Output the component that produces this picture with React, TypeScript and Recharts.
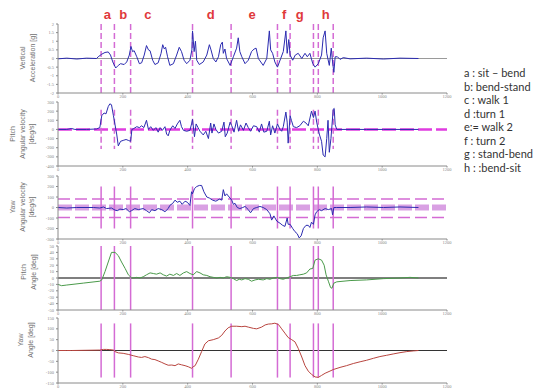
import React from 'react';
import { LineChart, Line, XAxis, YAxis, ReferenceLine } from 'recharts';

// ---------- data ----------
const X_TICKS = [0, 200, 400, 600, 800, 1000, 1200];
const EVENT_TIMES = [133, 174, 224, 415, 534, 677, 716, 788, 803, 849];
const PHASE_LETTERS = ['a', 'b', 'c', 'd', 'e', 'f', 'g', 'h'];
const PHASE_LETTER_TIMES = [152, 201, 277, 471, 599, 698, 746, 826];
const LEGEND_LINES = [
  'a : sit \u2013 bend',
  'b: bend-stand',
  'c : walk 1',
  'd :turn 1',
  'e:= walk 2',
  'f : turn 2',
  'g : stand-bend',
  'h : :bend-sit',
];

const verticalAccel: [number, number][] = [
  [0, -0.02], [27, 0.02], [58, -0.03], [88, 0.02], [119, 0], [124, 0.1], [135, 0.25], [145, 0.35],
  [155, 0.38], [162, 0.2], [169, -0.2], [178, -0.55], [186, -0.4], [193, -0.3], [204, -0.35],
  [212, -0.2], [220, 0.2], [225, 0.7], [230, 0.4], [235, 0.45], [243, 0.1], [251, -0.3], [258, -0.25],
  [266, 0.2], [273, 0.75], [279, 0.5], [284, 0.45], [292, -0.1], [299, -0.35], [309, -0.25], [318, 0.3],
  [323, 0.8], [328, 0.55], [332, 0.65], [338, 0.1], [345, -0.4], [356, -0.3], [366, 0.2], [374, 0.65],
  [381, 0.4], [389, -0.1], [397, -0.3], [407, -0.1], [413, 0.5], [415, 1.6], [420, 0.4], [424, 1.0],
  [428, -0.1], [436, -0.35], [448, -0.2], [459, 0.2], [467, 0.8], [472, 0.5], [479, 0], [487, -0.2],
  [495, 0.1], [502, 0.8], [507, 0.95], [510, 0.3], [515, 0.55], [520, 0], [531, -0.4], [541, 0.1],
  [551, 0.6], [556, 1.2], [561, 0.4], [567, 0.1], [577, -0.3], [587, -0.1], [597, 0.4], [605, 0.55],
  [611, 0.6], [618, 0], [633, -0.4], [644, 0], [652, 1.6], [656, 0.5], [662, 0.3], [669, -0.2],
  [677, -0.5], [687, 0], [695, 0.4], [703, 1.6], [707, 0.3], [712, 1.1], [716, 0.2], [724, -0.1],
  [732, 0.2], [741, 0.3], [752, 0], [762, 0.3], [769, 0.1], [777, 0.3], [786, -0.3], [793, -0.5],
  [803, -0.3], [813, 0.2], [818, 1.2], [824, 1.6], [829, 0.3], [837, -0.4], [843, 0.6], [847, -0.2],
  [851, -0.8], [855, 0.1], [862, 0.1], [870, -0.05], [880, 0.05], [901, -0.02], [952, 0.02],
  [1004, -0.03], [1055, 0.02], [1112, 0],
];

const pitchVelocity: [number, number][] = [
  [0, 0], [27, 0], [42, 10], [52, 0], [88, 0], [119, 5], [129, 20], [135, 150], [142, 180], [148, 170],
  [155, 250], [160, 280], [165, 270], [171, 150], [176, 50], [181, -50], [186, -180], [193, -130],
  [201, -120], [210, -110], [217, -120], [224, -130], [228, 0], [234, 10], [243, 30], [251, 20],
  [258, 40], [265, 20], [273, 100], [279, 0], [286, 30], [294, -10], [302, 20], [309, -30], [315, 20],
  [322, -10], [330, 30], [335, -50], [340, -70], [345, -10], [354, 40], [361, 10], [368, 60],
  [376, 100], [381, 30], [387, -10], [397, -20], [407, -10], [412, 60], [415, 110], [421, -80],
  [426, 60], [432, 20], [438, -20], [448, -60], [456, -20], [464, -100], [471, 70], [475, -40],
  [481, 60], [487, 0], [495, -40], [505, -20], [512, 80], [516, -80], [522, -40], [531, 80], [536, 40],
  [543, -30], [551, 100], [557, -20], [563, 50], [572, -10], [580, 70], [587, 20], [594, -20],
  [603, 40], [613, 30], [621, -30], [628, 60], [635, -30], [644, -20], [652, 90], [656, -60],
  [662, 40], [669, -40], [677, 60], [685, 0], [690, -20], [695, 30], [703, 190], [707, 80],
  [710, -150], [716, 150], [720, 100], [726, 30], [736, 20], [746, 40], [757, 90], [765, 70],
  [772, 40], [782, 200], [788, 130], [793, 200], [798, 80], [806, -50], [813, -130], [818, -280],
  [824, -300], [829, -100], [833, 100], [837, -250], [842, -100], [849, 220], [852, 230], [855, 50],
  [860, 0], [901, 0], [952, 0], [1004, 0], [1055, 0], [1112, 0],
];

const yawVelocity: [number, number][] = [
  [0, 0], [27, -5], [58, 0], [109, 0], [129, -5], [140, 5], [150, -10], [165, -5], [176, -25],
  [183, -30], [191, -15], [201, -20], [210, -10], [220, -40], [227, -30], [237, -10], [248, -20],
  [263, -10], [273, -30], [282, -50], [289, -20], [299, -30], [309, -10], [320, -20], [330, -40],
  [340, -10], [345, 20], [354, 40], [361, 70], [368, 50], [376, 60], [383, 30], [392, 60], [399, 50],
  [407, 20], [412, 150], [415, 130], [421, 180], [428, 200], [436, 210], [443, 210], [450, 150],
  [459, 100], [467, 90], [477, 70], [487, 60], [498, 80], [505, 70], [510, 170], [515, 110],
  [520, 130], [528, 100], [536, 70], [541, 30], [546, 40], [553, 0], [561, -10], [570, 0], [577, 10],
  [587, -20], [594, -50], [603, -10], [613, 0], [623, 10], [633, 0], [644, -20], [654, -60],
  [659, -120], [666, -80], [675, -130], [685, -150], [693, -170], [700, -180], [707, -100],
  [710, -160], [716, -160], [724, -200], [731, -230], [738, -250], [744, -290], [750, -270],
  [757, -200], [765, -170], [772, -170], [777, -190], [782, -140], [788, -160], [793, -70],
  [798, -40], [806, -20], [813, -30], [824, -10], [834, -20], [844, -10], [847, -70], [851, 0],
  [860, 0], [901, 0], [952, 5], [1004, 0], [1055, 5], [1112, 0],
];

const pitchAngle: [number, number][] = [
  [0, -10], [11, -12], [27, -11], [78, -8], [129, -5], [135, -3], [145, 10], [155, 25], [165, 40],
  [176, 40], [186, 35], [196, 25], [207, 15], [217, 5], [227, 0], [232, 0], [243, 1], [253, 0],
  [263, 2], [273, 5], [284, 8], [294, 7], [304, 6], [315, 8], [325, 5], [335, 3], [345, 6], [356, 4],
  [366, 7], [376, 4], [387, 8], [397, 10], [407, 7], [417, 5], [428, 10], [438, 8], [448, 5],
  [459, 4], [469, 2], [479, 1], [490, 0], [500, 1], [510, 0], [520, 2], [531, 1], [541, -1],
  [551, -4], [559, -2], [567, -3], [577, -1], [587, -2], [597, -5], [608, -3], [618, -2], [633, -3],
  [644, -1], [654, -2], [664, 0], [675, 1], [685, -1], [695, -2], [705, 0], [716, 2], [726, 4],
  [736, 4], [746, 5], [757, 6], [767, 8], [777, 14], [786, 15], [793, 28], [803, 30], [813, 28],
  [821, 20], [827, 5], [834, -5], [841, -15], [845, -16], [851, -8], [860, -6], [901, -4],
  [952, -3], [1004, -1], [1055, 0], [1086, 1], [1112, 0],
];

const yawAngle: [number, number][] = [
  [0, 0], [27, 0], [42, 0], [129, 2], [140, 5], [150, 5], [160, 4], [171, 2], [176, -5], [186, -11],
  [201, -13], [217, -18], [232, -24], [248, -30], [258, -32], [268, -28], [279, -33], [289, -40],
  [299, -42], [309, -48], [320, -55], [330, -62], [340, -68], [351, -67], [361, -70], [371, -62],
  [381, -66], [392, -70], [402, -75], [412, -82], [417, -75], [423, -70], [433, -40], [443, -5],
  [453, 30], [464, 45], [479, 50], [495, 58], [505, 70], [515, 90], [525, 105], [536, 112],
  [551, 112], [567, 110], [577, 112], [587, 108], [603, 102], [613, 100], [628, 108], [639, 118],
  [649, 122], [659, 123], [669, 126], [680, 120], [690, 100], [700, 80], [710, 60], [721, 50],
  [731, 40], [741, 10], [752, -30], [762, -70], [772, -95], [782, -110], [793, -122], [803, -124],
  [813, -115], [824, -105], [839, -95], [849, -88], [870, -78], [890, -70], [911, -60], [932, -52],
  [952, -45], [973, -36], [993, -28], [1014, -22], [1034, -16], [1055, -10], [1076, -5], [1096, -2],
  [1112, 0],
];

const ACCEL_TICKS = [-2, -1.5, -1, -0.5, 0, 0.5, 1, 1.5, 2];
const PITCH_VEL_TICKS = [-400, -300, -200, -100, 0, 100, 200, 300];
const YAW_VEL_TICKS = [-300, -200, -100, 0, 100, 200, 300];
const PITCH_ANGLE_TICKS = [-50, -40, -30, -20, -10, 0, 10, 20, 30, 40, 50];
const YAW_ANGLE_TICKS = [-150, -100, -50, 0, 50, 100, 150];

// ---------- layout ----------
const W = 547;
const PLOT_LEFT = 58;
const PLOT_RIGHT = 447;
const Y_AXIS_W = 18;
const X_AXIS_H = 7;
const MT = 2;
const MAGENTA = '#d46bd4';
const AXIS_GRAY = '#8a8a8a';

type PanelCfg = {
  data: [number, number][];
  ticks: number[];
  color: string;
  top: number;
  bottom: number;
  dashed: boolean;
  span: [number, number] | null;
  extras: React.ReactNode[];
};

function renderPanel(cfg: PanelCfg, key: string) {
  const plotH = cfg.bottom - cfg.top;
  const h = MT + plotH + X_AXIS_H;
  const rows = cfg.data.map(([t, v]) => ({ t, v }));
  const domain: [number, number] = [cfg.ticks[0], cfg.ticks[cfg.ticks.length - 1]];
  const vlines = EVENT_TIMES.map((t, i) =>
    cfg.span ? (
      <ReferenceLine
        key={'v' + i}
        segment={[{ x: t, y: cfg.span[0] }, { x: t, y: cfg.span[1] }]}
        stroke={MAGENTA}
        strokeWidth={1.5}
        strokeDasharray={cfg.dashed ? '6 3' : undefined}
      />
    ) : (
      <ReferenceLine
        key={'v' + i}
        x={t}
        stroke={MAGENTA}
        strokeWidth={1.5}
        strokeDasharray={cfg.dashed ? '6 3' : undefined}
      />
    )
  );
  return (
    <div key={key} style={{ position: 'absolute', left: 0, top: cfg.top - MT }}>
      <LineChart
        width={W}
        height={h}
        data={rows}
        margin={{ top: MT, right: W - PLOT_RIGHT, bottom: 0, left: PLOT_LEFT - Y_AXIS_W }}
      >
        <XAxis
          dataKey="t"
          type="number"
          domain={[0, 1200]}
          ticks={X_TICKS}
          height={X_AXIS_H}
          tickSize={1.5}
          tickMargin={0.5}
          stroke={AXIS_GRAY}
          tick={{ fontSize: 4.5, fill: '#888' }}
          interval={0}
        />
        <XAxis
          xAxisId="top"
          dataKey="t"
          type="number"
          orientation="top"
          domain={[0, 1200]}
          ticks={X_TICKS}
          height={0}
          tick={false}
          tickSize={2}
          stroke={AXIS_GRAY}
        />
        <YAxis
          type="number"
          domain={domain}
          ticks={cfg.ticks}
          width={Y_AXIS_W}
          tickSize={2}
          stroke={AXIS_GRAY}
          tick={{ fontSize: 4.5, fill: '#888' }}
          interval={0}
        />
        <YAxis
          yAxisId="right"
          orientation="right"
          type="number"
          domain={domain}
          ticks={cfg.ticks}
          width={0}
          tick={false}
          tickSize={2}
          stroke={AXIS_GRAY}
        />
        {cfg.extras}
        {vlines}
        <Line
          dataKey="v"
          type="linear"
          stroke={cfg.color}
          strokeWidth={1}
          dot={false}
          isAnimationActive={false}
        />
      </LineChart>
    </div>
  );
}

function VLabel({ lines, cx, cy }: { lines: string[]; cx: number; cy: number }) {
  return (
    <div
      style={{
        position: 'absolute',
        left: cx,
        top: cy,
        transform: 'translate(-50%, -50%) rotate(-90deg)',
        textAlign: 'center',
        fontFamily: 'Liberation Sans, Arial, sans-serif',
        fontSize: 7,
        lineHeight: '9.5px',
        color: '#707070',
        whiteSpace: 'nowrap',
      }}
    >
      {lines.map((l, i) => (
        <div key={i}>{l}</div>
      ))}
    </div>
  );
}

export default function App() {
  const pxOf = (t: number) => PLOT_LEFT + (t / 1200) * (PLOT_RIGHT - PLOT_LEFT);
  const panels: PanelCfg[] = [
    {
      data: verticalAccel, ticks: ACCEL_TICKS, color: '#2b2bb0', top: 24, bottom: 93, dashed: true, span: null,
      extras: [<ReferenceLine key="z" y={0} stroke="#9a9a9a" strokeWidth={1.2} />],
    },
    {
      data: pitchVelocity, ticks: PITCH_VEL_TICKS, color: '#2b2bb0', top: 102, bottom: 166, dashed: true, span: [215, -215],
      extras: [<ReferenceLine key="z" y={0} stroke="#e03ce0" strokeWidth={2.5} strokeDasharray="14 4" />],
    },
    {
      data: yawVelocity, ticks: YAW_VEL_TICKS, color: '#2b2bb0', top: 176, bottom: 239, dashed: false, span: [200, -200],
      extras: [
        <ReferenceLine key="z" y={0} stroke="#d9a0e3" strokeWidth={6} strokeDasharray="14 3" />,
        <ReferenceLine key="u" y={80} stroke={MAGENTA} strokeWidth={1.5} strokeDasharray="12 5" />,
        <ReferenceLine key="l" y={-95} stroke={MAGENTA} strokeWidth={1.5} strokeDasharray="12 5" />,
      ],
    },
    {
      data: pitchAngle, ticks: PITCH_ANGLE_TICKS, color: '#4a9a4a', top: 246, bottom: 310, dashed: false, span: null,
      extras: [<ReferenceLine key="z" y={0} stroke="#555" strokeWidth={1.5} />],
    },
    {
      data: yawAngle, ticks: YAW_ANGLE_TICKS, color: '#b8453f', top: 318, bottom: 383, dashed: false, span: [125, -125],
      extras: [<ReferenceLine key="z" y={0} stroke="#333" strokeWidth={1.2} />],
    },
  ];

  return (
    <div style={{ position: 'absolute', left: 0, top: 0, width: W, height: 390, background: '#fff', overflow: 'hidden' }}>
      {panels.map((p, i) => renderPanel(p, 'p' + i))}
      {PHASE_LETTERS.map((l, i) => (
        <div
          key={l}
          style={{
            position: 'absolute',
            left: pxOf(PHASE_LETTER_TIMES[i]),
            top: 14,
            transform: 'translate(-50%, -50%)',
            color: '#e0393b',
            fontFamily: 'Liberation Sans, Arial, sans-serif',
            fontWeight: 'bold',
            fontSize: 13,
          }}
        >
          {l}
        </div>
      ))}
      <VLabel lines={['Vertical', 'Acceleration [g]']} cx={27} cy={58} />
      <VLabel lines={['Pitch', 'Angular velocity', '[deg/s]']} cx={22} cy={134} />
      <VLabel lines={['Yaw', 'Angular velocity', '[deg/s]']} cx={22} cy={207} />
      <VLabel lines={['Pitch', 'Angle [deg]']} cx={28} cy={272} />
      <VLabel lines={['Yaw', 'Angle [deg]']} cx={25} cy={340} />
      <div
        style={{
          position: 'absolute',
          left: 464,
          top: 66,
          fontFamily: 'Lato, Open Sans, sans-serif',
          fontSize: 11,
          lineHeight: '13.5px',
          color: '#333',
          whiteSpace: 'nowrap',
        }}
      >
        {LEGEND_LINES.map((l, i) => (
          <div key={i}>{l}</div>
        ))}
      </div>
    </div>
  );
}
